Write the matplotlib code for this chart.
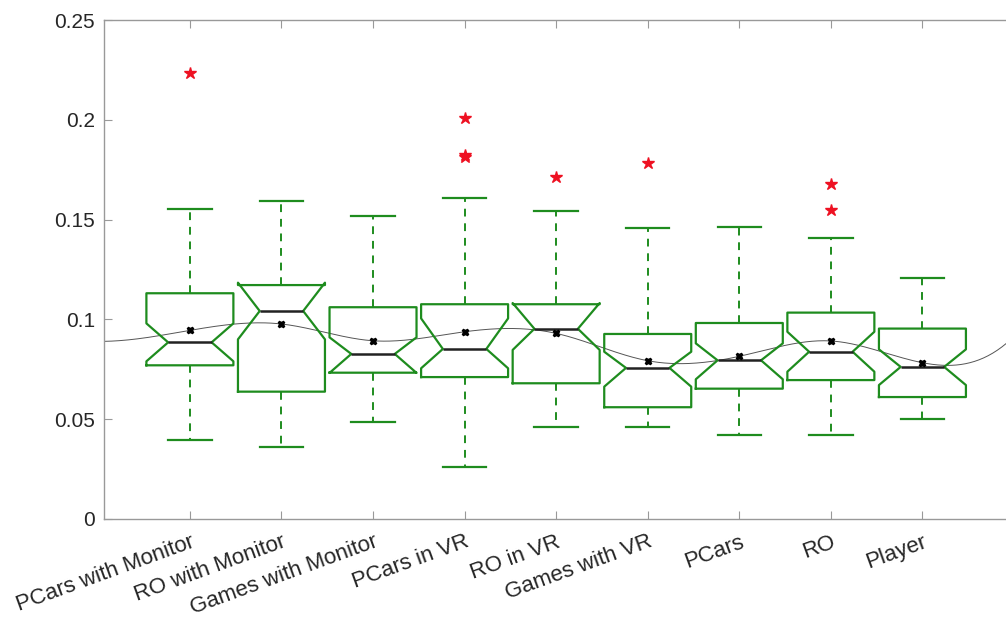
import numpy as np
import matplotlib
matplotlib.use("Agg")
import matplotlib.pyplot as plt

plt.rcParams['font.family'] = ['Liberation Sans', 'DejaVu Sans']

categories = ["PCars with Monitor", "RO with Monitor", "Games with Monitor",
              "PCars in VR", "RO in VR", "Games with VR", "PCars", "RO", "Player"]
medians   = [0.0885, 0.1042, 0.0827, 0.0852, 0.0953, 0.0757, 0.0795, 0.0838, 0.0762]
q1        = [0.0770, 0.0638, 0.0733, 0.0711, 0.0680, 0.0560, 0.0653, 0.0696, 0.0611]
q3        = [0.1131, 0.1172, 0.1061, 0.1076, 0.1076, 0.0927, 0.0982, 0.1034, 0.0954]
whis_lo   = [0.0394, 0.0359, 0.0484, 0.0259, 0.0462, 0.0462, 0.0421, 0.0421, 0.0500]
whis_hi   = [0.1553, 0.1595, 0.1520, 0.1608, 0.1545, 0.1458, 0.1464, 0.1408, 0.1206]
notch_lo  = [0.0790, 0.0900, 0.0732, 0.0755, 0.0847, 0.0663, 0.0700, 0.0738, 0.0671]
notch_hi  = [0.0980, 0.1184, 0.0910, 0.1005, 0.1082, 0.0838, 0.0880, 0.0938, 0.0850]
means     = [0.0945, 0.0977, 0.0893, 0.0938, 0.0930, 0.0793, 0.0815, 0.0892, 0.0783]
outliers  = [[0.2235], [], [], [0.2009, 0.1824, 0.1816], [0.1712], [0.1782], [],
             [0.1677, 0.1548], []]
# values of the smooth trend line beyond the first and last box (at x=0 and x=10)
trend_ends = [0.0890, 0.0915]
yticks = [0, 0.05, 0.1, 0.15, 0.2, 0.25]
ytick_labels = ["0", "0.05", "0.1", "0.15", "0.2", "0.25"]

W, H = 1006, 619
fig = plt.figure(figsize=(W / 100, H / 100), dpi=100)
ax = fig.add_axes([104 / W, 100 / H, 910 / W, 499 / H])

stats = []
for i in range(len(categories)):
    stats.append(dict(med=medians[i], q1=q1[i], q3=q3[i], whislo=whis_lo[i],
                      whishi=whis_hi[i], cilo=notch_lo[i], cihi=notch_hi[i],
                      mean=means[i], fliers=outliers[i], label=categories[i]))

green = '#1e8c1e'
pos = np.arange(1, len(categories) + 1)
ax.bxp(stats, positions=pos, widths=0.95, shownotches=True, showmeans=True,
       showfliers=True, patch_artist=False,
       boxprops=dict(color=green, linewidth=1.6),
       whiskerprops=dict(color=green, linewidth=1.4, linestyle=(0, (4, 3.5))),
       capprops=dict(color=green, linewidth=1.6),
       medianprops=dict(color='#222222', linewidth=1.8),
       meanprops=dict(marker='X', markerfacecolor='black', markeredgecolor='black',
                      markersize=4.5),
       flierprops=dict(marker='*', markerfacecolor='#ee1122', markeredgecolor='#ee1122',
                       markersize=9, linestyle='none'),
       zorder=3)

# smooth trend line through the means (not-a-knot cubic spline, unit spacing)
xlim = (0.062, 10.0)
ky = np.array([trend_ends[0]] + means + [trend_ends[1]])
kx = np.arange(len(ky), dtype=float)
n = len(ky)
A = np.zeros((n, n))
b = np.zeros(n)
A[0, 0:3] = [1, -2, 1]
A[-1, -3:] = [1, -2, 1]
for i in range(1, n - 1):
    A[i, i - 1:i + 2] = [1, 4, 1]
    b[i] = 6 * (ky[i + 1] - 2 * ky[i] + ky[i - 1])
M = np.linalg.solve(A, b)
xx = np.linspace(xlim[0], xlim[1], 600)
idx = np.clip(np.floor(xx).astype(int), 0, n - 2)
x0 = kx[idx]
x1 = x0 + 1
yy = (M[idx] * (x1 - xx) ** 3 / 6 + M[idx + 1] * (xx - x0) ** 3 / 6
      + (ky[idx] - M[idx] / 6) * (x1 - xx) + (ky[idx + 1] - M[idx + 1] / 6) * (xx - x0))
ax.plot(xx, yy, color='#555555', linewidth=0.7, zorder=2)

ax.set_xlim(*xlim)
ax.set_ylim(0, 0.25)
ax.set_yticks(yticks)
ax.set_yticklabels(ytick_labels)
ax.set_xticks(pos)
ax.set_xticklabels(categories, rotation=20, ha='right', va='top',
                   rotation_mode='anchor', fontsize=16)
ax.tick_params(direction='in', length=6, width=0.8, color='#999999',
               labelcolor='#262626', top=True, right=True)
ax.tick_params(axis='y', pad=6.5, labelsize=15)
ax.tick_params(axis='x', pad=9)
for s in ax.spines.values():
    s.set_color('#999999')
    s.set_linewidth(1.0)

fig.savefig('out.png', dpi=100)
